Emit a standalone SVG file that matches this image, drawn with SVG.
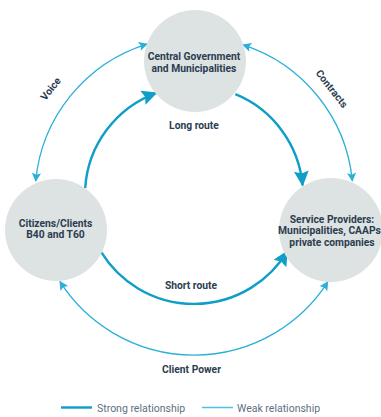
<svg xmlns="http://www.w3.org/2000/svg" width="381" height="417" viewBox="0 0 381 417">
  <style>
    .node { fill: #dde2e3; }
    .label { font-family: Roboto, "Liberation Sans", sans-serif; font-weight: 700; font-size: 10.3px; fill: #2c3d50; text-anchor: middle; }
    .legend { font-family: Roboto, "Liberation Sans", sans-serif; font-size: 10.5px; fill: #5d6f82; }
    .strong { fill: none; stroke: #0e9ec8; stroke-width: 2.4; }
    .weak { fill: none; stroke: #2cb0da; stroke-width: 1.3; }
  </style>
  <defs>
    <marker id="arrowStrong" markerUnits="userSpaceOnUse" viewBox="-17 -9 18 18" refX="0" refY="0" markerWidth="18" markerHeight="18" orient="auto-start-reverse">
      <path d="M1,0 L-14.5,-7.4 L-12,0 L-14.5,7.4 Z" fill="#0e9ec8"/>
    </marker>
    <marker id="arrowWeak" markerUnits="userSpaceOnUse" viewBox="-10 -6 12 12" refX="0" refY="0" markerWidth="12" markerHeight="12" orient="auto-start-reverse">
      <path d="M1,0 L-8,-4.6 L-6.2,0 L-8,4.6 Z" fill="#2cb0da"/>
    </marker>
  </defs>

  <!-- connectors: inner ring = strong, outer ring = weak -->
  <g id="connectors">
    <path class="strong" d="M85.2,188 A109,109 0 0 1 156.5,92.8" marker-end="url(#arrowStrong)"/>
    <path class="strong" d="M235.4,94.2 A109,109 0 0 1 302.6,185.5" marker-end="url(#arrowStrong)"/>
    <path class="strong" d="M101.4,252.4 A109,109 0 0 0 287.4,251.1" marker-end="url(#arrowStrong)"/>
    <path class="weak" d="M35.7,181 A159,159 0 0 1 147,44.1" marker-start="url(#arrowWeak)" marker-end="url(#arrowWeak)"/>
    <path class="weak" d="M243.1,44.8 A159,159 0 0 1 352.3,180.8" marker-start="url(#arrowWeak)" marker-end="url(#arrowWeak)"/>
    <path class="weak" d="M60,281.7 A159,159 0 0 0 327.7,282.1" marker-start="url(#arrowWeak)" marker-end="url(#arrowWeak)"/>
  </g>

  <g id="government">
    <circle class="node" cx="195" cy="61" r="51"/>
    <text class="label" x="194" y="60">Central Government</text>
    <text class="label" x="194" y="71.5">and Municipalities</text>
  </g>

  <g id="citizens">
    <circle class="node" cx="56" cy="230" r="51"/>
    <text class="label" x="55.5" y="226.5">Citizens/Clients</text>
    <text class="label" x="55.5" y="238">B40 and T60</text>
  </g>

  <g id="providers">
    <circle class="node" cx="331" cy="230" r="52"/>
    <text class="label" x="332" y="222.5">Service Providers:</text>
    <text class="label" x="329.5" y="234">Municipalities, CAAPs</text>
    <text class="label" x="332" y="245.5">private companies</text>
  </g>

  <!-- connector labels -->
  <g id="connector-labels">
    <text class="label" x="194" y="128.5">Long route</text>
    <text class="label" x="191" y="289">Short route</text>
    <text class="label" x="191.5" y="373">Client Power</text>
    <text class="label" transform="translate(53.5,91) rotate(-52)">Voice</text>
    <text class="label" transform="translate(329,91) rotate(52)">Contracts</text>
  </g>

  <g id="legend">
    <line x1="61" y1="407.5" x2="92" y2="407.5" stroke="#0e9ec8" stroke-width="2.4"/>
    <text class="legend" x="97" y="411.5">Strong relationship</text>
    <line x1="202" y1="407.5" x2="233" y2="407.5" stroke="#4ec0e4" stroke-width="1.5"/>
    <text class="legend" x="237" y="411.5">Weak relationship</text>
  </g>
</svg>
